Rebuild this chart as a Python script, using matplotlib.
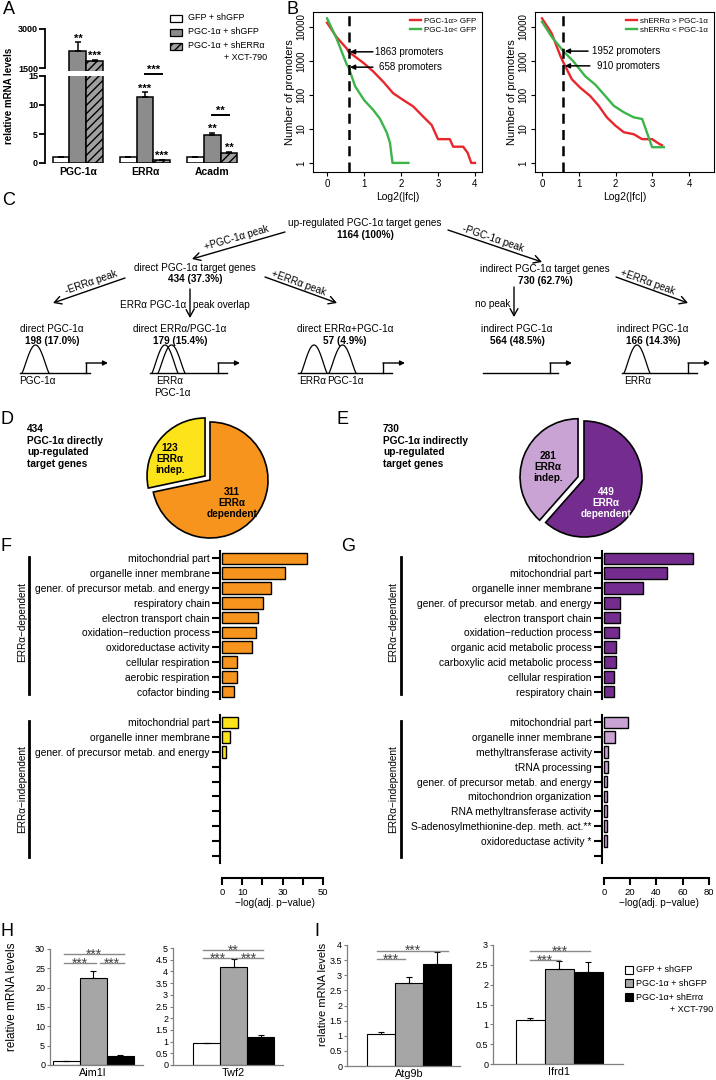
import numpy as np
import matplotlib
matplotlib.use('Agg')
import matplotlib.pyplot as plt
from matplotlib.patches import Rectangle

plt.rcParams['font.family'] = ['Liberation Sans', 'DejaVu Sans']

# ---------------- data ----------------
# A: qPCR (relative mRNA levels)
a_genes = ['PGC-1α', 'ERRα', 'Acadm']
a_conds = ['GFP + shGFP', 'PGC-1α + shGFP', 'PGC-1α + shERRα']
a_gfp = [1.0, 1.0, 1.0]
a_gfp_err = [0.1, 0.1, 0.1]
a_pgc = [2170, 11.4, 4.8]
a_pgc_err = [320, 0.8, 0.4]
a_xct = [1780, 0.5, 1.8]
a_xct_err = [40, 0.1, 0.1]
a_star_pgc = ['**', '***', '**']
a_star_xct = ['***', '***', '**']
a_star_pair = ['', '***', '**']

# B: number of promoters vs Log2(|fc|)
b1_up_x = [0, 0.26, 0.53, 0.58, 0.76, 1.0, 1.25, 1.52, 1.79, 2.06, 2.33, 2.6, 2.83, 3.0, 3.32, 3.41, 3.68, 3.8, 3.9, 4.0]
b1_up_y = [13400, 5000, 2350, 1863, 1340, 850, 490, 245, 112, 71, 46, 23, 13, 5, 5, 3, 3, 2, 1, 1]
b1_dn_x = [0, 0.26, 0.53, 0.58, 0.76, 1.0, 1.25, 1.43, 1.61, 1.7, 1.77, 2.2]
b1_dn_y = [18000, 4500, 800, 658, 180, 71, 36, 20, 8, 4, 1, 1]
b2_up_x = [0, 0.26, 0.5, 0.58, 0.81, 1.04, 1.31, 1.54, 1.76, 1.99, 2.22, 2.49, 2.72, 2.99, 3.17, 3.26]
b2_up_y = [18000, 6600, 1400, 910, 290, 163, 93, 48, 22, 12.6, 8, 7, 5, 5, 3.7, 3.3]
b2_dn_x = [0, 0.26, 0.58, 0.85, 1.17, 1.45, 1.72, 1.95, 2.22, 2.49, 2.72, 2.99, 3.31]
b2_dn_y = [14400, 5200, 1952, 980, 360, 200, 93, 48, 31, 22, 19.6, 2.9, 2.9]
b_cut = 0.58

# D / E: pies
d_counts = [123, 311]
e_counts = [281, 449]

# F / G: GO enrichment, -log(adj. p-value)
f_dep_lab = ['mitochondrial part', 'organelle inner membrane', 'gener. of precursor metab. and energy',
             'respiratory chain', 'electron transport chain', 'oxidation\u2212reduction process',
             'oxidoreductase activity', 'cellular respiration', 'aerobic respiration', 'cofactor binding']
f_dep_val = [42, 31, 24.5, 20.5, 18, 17, 15, 7.5, 7.4, 6]
f_ind_lab = ['mitochondrial part', 'organelle inner membrane', 'gener. of precursor metab. and energy']
f_ind_val = [8, 4, 1.8]
g_dep_lab = ['mitochondrion', 'mitochondrial part', 'organelle inner membrane',
             'gener. of precursor metab. and energy', 'electron transport chain',
             'oxidation\u2212reduction process', 'organic acid metabolic process',
             'carboxylic acid metabolic process', 'cellular respiration', 'respiratory chain']
g_dep_val = [68, 48, 30, 12, 12.5, 11.5, 9, 9, 8, 7.5]
g_ind_lab = ['mitochondrial part', 'organelle inner membrane', 'methyltransferase activity',
             'tRNA processing', 'gener. of precursor metab. and energy', 'mitochondrion organization',
             'RNA methyltransferase activity', 'S-adenosylmethionine-dep. meth. act.**',
             'oxidoreductase activity *']
g_ind_val = [18, 8.5, 2.7, 2.7, 2.5, 2.3, 2.3, 2.2, 2.0]

# H / I: qPCR
hi_conds = ['GFP + shGFP', 'PGC-1α + shGFP', 'PGC-1α+ shErrα']
aim1l_val = [1.0, 22.4, 2.3]
aim1l_err = [0.15, 1.8, 0.3]
twf2_val = [0.93, 4.19, 1.2]
twf2_err = [0.03, 0.33, 0.07]
atg9b_val = [1.07, 2.75, 3.37]
atg9b_err = [0.04, 0.2, 0.4]
ifrd1_val = [1.11, 2.40, 2.33]
ifrd1_err = [0.04, 0.2, 0.23]

# ---------------- figure ----------------
W, H = 716, 1080
fig = plt.figure(figsize=(W / 100, H / 100), dpi=100)


def px_axes(x0, y0, x1, y1):
    ax = fig.add_axes([x0 / W, 1 - y1 / H, (x1 - x0) / W, (y1 - y0) / H])
    ax.patch.set_alpha(0)
    return ax


ov = fig.add_axes([0, 0, 1, 1], zorder=10)
ov.set_xlim(0, W)
ov.set_ylim(H, 0)
ov.axis('off')

for lab, x, y in [('A', 3, 1), ('B', 286, 1), ('C', 2, 192), ('D', 0, 411), ('E', 336, 411),
                  ('F', 0, 538), ('G', 341, 538), ('H', 0, 923), ('I', 314, 923)]:
    ov.text(x, y, lab, fontsize=13, va='top', ha='left')

# ---- A ----
a_top = px_axes(45, 29, 245, 71)
a_bot = px_axes(45, 76, 245, 163)
xa = np.arange(len(a_genes))
bw = 0.25
for ax in (a_top, a_bot):
    ax.bar(xa - bw, a_gfp, bw, color='white', edgecolor='black', lw=1.1)
    ax.bar(xa, a_pgc, bw, color='#8c8c8c', edgecolor='black', lw=1.1)
    ax.bar(xa + bw, a_xct, bw, color='#a0a0a0', edgecolor='black', lw=1.1, hatch='////')
    for off, v, e in ((-bw, a_gfp, a_gfp_err), (0, a_pgc, a_pgc_err), (bw, a_xct, a_xct_err)):
        ax.errorbar(xa + off, v, yerr=[np.zeros(3), e], fmt='none', ecolor='black',
                    elinewidth=1.1, capsize=2.5, capthick=1.1)
    ax.set_xlim(-0.49, 2.49)
    for s in ('top', 'right', 'bottom'):
        ax.spines[s].set_visible(False)
    ax.spines['left'].set_linewidth(1.3)
    ax.tick_params(axis='y', width=1.3, length=4, labelsize=6.5, pad=1)
a_top.set_ylim(1385, 3000)
a_top.set_yticks([1500, 3000])
a_top.spines['left'].set_bounds(1500, 3000)
a_top.tick_params(axis='x', bottom=False, labelbottom=False)
a_bot.set_ylim(0, 15)
a_bot.set_yticks([0, 5, 10, 15])
a_bot.set_xticks(xa)
a_bot.set_xticklabels(a_genes, fontsize=7.5, fontweight='bold')
a_bot.tick_params(axis='x', length=0, pad=3)
for ax in (a_top, a_bot):
    for t in ax.get_yticklabels():
        t.set_fontweight('bold')

for i in range(3):
    for off, v, e, s in ((0, a_pgc[i], a_pgc_err[i], a_star_pgc[i]),
                         (bw, a_xct[i], a_xct_err[i], a_star_xct[i])):
        ax = a_top if v > 15 else a_bot
        ax.annotate(s, (i + off, v + e), xytext=(0, 0.5), textcoords='offset points',
                    ha='center', va='baseline', fontsize=8, fontweight='bold',
                    annotation_clip=False)
    if a_star_pair[i]:
        yb = max(a_pgc[i] + a_pgc_err[i], a_xct[i] + a_xct_err[i]) + 3.1
        a_bot.plot([i, i + bw], [yb, yb], color='black', lw=1.4, clip_on=False)
        a_bot.annotate(a_star_pair[i], (i + bw / 2, yb), xytext=(0, 1), textcoords='offset points',
                       ha='center', va='baseline', fontsize=8, fontweight='bold',
                       annotation_clip=False)
ov.text(9, 96, 'relative mRNA levels', rotation=90, fontsize=7, fontweight='bold',
        ha='center', va='center')

a_face = ['white', '#8c8c8c', '#a0a0a0']
a_hatch = [None, None, '////']
for k, (lab, yc) in enumerate(zip(a_conds, [18, 32, 46])):
    ov.add_patch(Rectangle((170, yc - 3.5), 12, 7, facecolor=a_face[k], edgecolor='black',
                           lw=0.9, hatch=a_hatch[k]))
    ov.text(188, yc, lab, fontsize=6.5, va='center')
ov.text(267, 58, '+ XCT-790', fontsize=6.5, va='center', ha='right')

# ---- B ----
red, green = '#e8262b', '#3cb44a'
b_panels = [
    (px_axes(313, 12, 482, 172), (-0.38, 4.19), b1_up_x, b1_up_y, b1_dn_x, b1_dn_y,
     'PGC-1α> GFP', 'PGC-1α< GFP',
     [(1863, 1.24, 1.3, '1863 promoters'), (658, 1.24, 1.41, '658 promoters')]),
    (px_axes(535, 12, 714, 172), (-0.19, 4.67), b2_up_x, b2_up_y, b2_dn_x, b2_dn_y,
     'shERRα > PGC-1α', 'shERRα < PGC-1α',
     [(1952, 1.25, 1.36, '1952 promoters'), (720, 1.3, 1.5, '910 promoters')]),
]
for ax, xl, ux, uy, dx, dy, lu, ld, anns in b_panels:
    ax.set_yscale('log')
    ax.plot(ux, uy, color=red, lw=1.7, label=lu)
    ax.plot(dx, dy, color=green, lw=1.7, label=ld)
    ax.axvline(b_cut, color='black', lw=1.8, ls=(0, (4, 2.5)))
    ax.set_xlim(*xl)
    ax.set_ylim(0.54, 27700)
    ax.set_xticks([0, 1, 2, 3, 4])
    ax.set_yticks([1, 10, 100, 1000, 10000])
    ax.set_yticklabels(['1', '10', '100', '1000', '10000'], rotation=90, va='center')
    ax.yaxis.set_minor_locator(matplotlib.ticker.NullLocator())
    ax.tick_params(labelsize=7, length=3, width=0.8, pad=2)
    for s in ax.spines.values():
        s.set_linewidth(0.8)
    ax.set_xlabel('Log2(|fc|)', fontsize=7.5, labelpad=2)
    ax.set_ylabel('Number of promoters', fontsize=8, labelpad=1)
    ax.legend(loc='upper right', frameon=False, fontsize=5.8, handlelength=1.4,
              borderaxespad=0.3, labelspacing=0.15, handletextpad=0.4)
    for yv, xt, xtxt, txt in anns:
        ax.annotate('', xy=(b_cut + 0.04, yv), xytext=(xt, yv),
                    arrowprops=dict(arrowstyle='-|>', lw=1.1, color='black', mutation_scale=7,
                                    shrinkA=0, shrinkB=0))
        ax.text(xtxt, yv, txt, fontsize=7, va='center', ha='left')

# ---- C ----
fs = 7.2
c_nodes = [
    (365, 223, 'up-regulated PGC-1α target genes', '1164 (100%)'),
    (195, 268, 'direct PGC-1α target genes', '434 (37.3%)'),
    (545, 269, 'indirect PGC-1α target genes', '730 (62.7%)'),
    (52, 329, 'direct PGC-1α', '198 (17.0%)'),
    (180, 329, 'direct ERRα/PGC-1α', '179 (15.4%)'),
    (345, 329, 'direct ERRα+PGC-1α', '57 (4.9%)'),
    (517, 329, 'indirect PGC-1α', '564 (48.5%)'),
    (653, 329, 'indirect PGC-1α', '166 (14.3%)'),
]
for x, y, t1, t2 in c_nodes:
    ov.text(x, y, t1, fontsize=fs, ha='center', va='center')
    ov.text(x, y + 11.5, t2, fontsize=fs, ha='center', va='center', fontweight='bold')

c_arrows = [
    ((285, 232), (192, 259), '+PGC-1α peak', (237, 238)),
    ((448, 230), (542, 262), '-PGC-1α peak', (493, 239)),
    ((125, 278), (53, 303), '-ERRα peak', (91, 282)),
    ((265, 277), (337, 303), '+ERRα peak', (299, 283)),
    ((616, 277), (688, 303), '+ERRα peak', (648, 282)),
    ((190, 289), (190, 318), None, None),
    ((514, 287), (514, 317), None, None),
]
for p0, p1, lab, tp in c_arrows:
    ov.annotate('', xy=p1, xytext=p0,
                arrowprops=dict(arrowstyle='->, head_length=0.5, head_width=0.28', lw=1.0,
                                color='black', shrinkA=0, shrinkB=0))
    if lab:
        ang = -np.degrees(np.arctan2(p1[1] - p0[1], p1[0] - p0[0]))
        if ang > 90:
            ang -= 180
        if ang < -90:
            ang += 180
        ov.text(tp[0], tp[1], lab, fontsize=fs, rotation=ang, rotation_mode='anchor',
                ha='center', va='center')
ov.text(186, 305, 'ERRα PGC-1α', fontsize=fs, ha='right', va='center')
ov.text(193, 305, 'peak overlap', fontsize=fs, ha='left', va='center')
ov.text(510, 304, 'no peak', fontsize=fs, ha='right', va='center')

base = 373


def peak(x0, x1, h=28):
    t = np.linspace(0, 1, 50)
    ov.plot(x0 + (x1 - x0) * t, base - h * np.sin(np.pi * t) ** 1.2, color='black', lw=0.9)


def promoter(x0, x1, xt):
    ov.plot([x0, x1], [base, base], color='black', lw=1.0)
    ov.plot([xt, xt], [base, base - 10], color='black', lw=1.0)
    ov.annotate('', xy=(xt + 22, base - 10), xytext=(xt, base - 10),
                arrowprops=dict(arrowstyle='-|>', lw=1.0, color='black', mutation_scale=7,
                                shrinkA=0, shrinkB=0))


promoter(20, 90, 86)
peak(22, 49)
promoter(150, 227, 218)
peak(152, 178)
peak(158, 185)
promoter(298, 392, 383)
peak(301, 327)
peak(329, 356)
promoter(483, 558, 550)
promoter(622, 697, 688)
peak(624, 650)
for x, y, t in [(37, 381, 'PGC-1α'), (170, 381, 'ERRα'), (172, 393, 'PGC-1α'),
                (313, 381, 'ERRα'), (345, 381, 'PGC-1α'), (638, 381, 'ERRα')]:
    ov.text(x, y, t, fontsize=fs, ha='center', va='center')

# ---- D / E ----
ov.text(27, 424, '434\nPGC-1α directly\nup-regulated\ntarget genes', fontsize=7.3,
        fontweight='bold', va='top', linespacing=1.2)
ov.text(383, 424, '730\nPGC-1α indirectly\nup-regulated\ntarget genes', fontsize=7.3,
        fontweight='bold', va='top', linespacing=1.2)
for box, counts, cols in [((135, 405, 285, 555), d_counts, ['#fde31a', '#f7941d']),
                          ((509, 404, 659, 554), e_counts, ['#c9a3d3', '#742d8f'])]:
    pax = px_axes(*box)
    pax.pie(counts, colors=cols, startangle=90, explode=[0.11, 0],
            wedgeprops=dict(edgecolor='black', linewidth=1.2))
    pax.set_xlim(-1.293, 1.293)
    pax.set_ylim(-1.293, 1.293)
    pax.set_aspect('equal')
ov.text(170, 459, '%d\nERRα\nindep.' % d_counts[0], fontsize=7.2, fontweight='bold',
        ha='center', va='center', linespacing=1.15)
ov.text(232, 503, '%d\nERRα\ndependent' % d_counts[1], fontsize=7.2, fontweight='bold',
        ha='center', va='center', linespacing=1.15)
ov.text(548, 467, '%d\nERRα\nindep.' % e_counts[0], fontsize=7.2, fontweight='bold',
        ha='center', va='center', linespacing=1.15)
ov.text(606, 503, '%d\nERRα\ndependent' % e_counts[1], fontsize=7.2, fontweight='bold',
        ha='center', va='center', linespacing=1.15, color='white')


# ---- F / G ----
def go_axis(ax, labels, values, color, xlim):
    n = 10
    ax.barh(np.arange(len(values)), values, height=0.78, color=color, edgecolor='black',
            linewidth=1.0)
    ax.set_yticks(np.arange(n))
    ax.set_yticklabels(list(labels) + [''] * (n - len(labels)), fontsize=7.4)
    ax.set_ylim(n - 0.5, -0.5)
    ax.set_xlim(*xlim)
    for s in ('top', 'right', 'bottom'):
        ax.spines[s].set_visible(False)
    ax.spines['left'].set_linewidth(1.5)
    ax.tick_params(axis='y', length=6, width=1.5, pad=1.5)
    ax.tick_params(axis='x', bottom=False, labelbottom=False)


def go_xaxis(ax, ticks, labels, top):
    ax.spines['bottom'].set_visible(True)
    ax.spines['bottom'].set_position(('outward', 11))
    ax.spines['bottom'].set_bounds(0, top)
    ax.spines['bottom'].set_linewidth(1.5)
    ax.set_xticks(ticks)
    ax.set_xticklabels(labels)
    ax.tick_params(axis='x', bottom=True, labelbottom=True, length=5, width=1.5,
                   labelsize=6.8, pad=2)
    ax.set_xlabel('\u2212log(adj. p\u2212value)', fontsize=7.2, labelpad=1)


f_dep = px_axes(220, 551, 330, 699)
f_ind = px_axes(220, 715, 330, 863)
go_axis(f_dep, f_dep_lab, f_dep_val, '#f7941d', (-1, 53.5))
go_axis(f_ind, f_ind_lab, f_ind_val, '#fde31a', (-1, 53.5))
go_xaxis(f_ind, range(0, 51, 10), ['0', '10', '', '30', '', '50'], 50)

g_dep = px_axes(602, 551, 716, 699)
g_ind = px_axes(602, 715, 716, 863)
go_axis(g_dep, g_dep_lab, g_dep_val, '#742d8f', (-1.5, 85.5))
go_axis(g_ind, g_ind_lab, g_ind_val, '#c9a3d3', (-1.5, 85.5))
go_xaxis(g_ind, range(0, 81, 20), ['0', '20', '40', '60', '80'], 80)

for xl, xt in [(29, 22), (401, 393)]:
    ov.plot([xl, xl], [557, 694], color='black', lw=2)
    ov.plot([xl, xl], [721, 857], color='black', lw=2)
    ov.text(xt, 622, 'ERRα\u2212dependent', rotation=90, fontsize=7.2, ha='center', va='center')
    ov.text(xt, 789, 'ERRα\u2212independent', rotation=90, fontsize=7.2, ha='center', va='center')

# ---- H / I ----
hi_cols = ['white', '#a6a6a6', 'black']
axis_gray = '#7f7f7f'
hi_panels = [
    ((50, 949, 143, 1065), 'Aim1l', aim1l_val, aim1l_err, 30, 5, (-0.6, 2.85),
     [(-0.07, 2.15, 28.7, '***'), (-0.07, 1.1, 26.4, '***'), (1.26, 2.15, 26.4, '***')]),
    ((173, 948, 283, 1065), 'Twf2', twf2_val, twf2_err, 5, 0.5, (-1.24, 2.83),
     [(-0.13, 2.09, 4.91, '**'), (-0.13, 0.98, 4.57, '***'), (1.05, 2.09, 4.57, '***')]),
    ((347, 945, 460, 1066), 'Atg9b', atg9b_val, atg9b_err, 4, 0.5, (-1.21, 2.82),
     [(-0.14, 2.4, 3.81, '***'), (-0.14, 0.86, 3.54, '***')]),
    ((493, 945, 623, 1064), 'Ifrd1', ifrd1_val, ifrd1_err, 3, 0.5, (-1.28, 3.2),
     [(0.0, 2.07, 2.85, '***'), (0.0, 1.03, 2.62, '***')]),
]
for box, gene, vals, errs, ymax, ystep, xl, brackets in hi_panels:
    ax = px_axes(*box)
    xb = np.arange(3)
    ax.bar(xb, vals, width=1.0, color=hi_cols, edgecolor='black', linewidth=0.8)
    ax.errorbar(xb, vals, yerr=[np.zeros(3), errs], fmt='none', ecolor='black',
                elinewidth=0.8, capsize=2, capthick=0.8)
    ax.set_ylim(0, ymax)
    ax.set_xlim(*xl)
    ax.set_yticks(np.arange(0, ymax + 1e-9, ystep))
    ax.yaxis.set_major_formatter(matplotlib.ticker.FormatStrFormatter('%g'))
    ax.set_xticks([1])
    ax.set_xticklabels([gene], fontsize=7.8)
    ax.tick_params(axis='x', length=0, pad=2)
    ax.tick_params(axis='y', labelsize=6.5, length=2.5, width=0.8, color=axis_gray, pad=1)
    for s in ('top', 'right'):
        ax.spines[s].set_visible(False)
    for s in ('left', 'bottom'):
        ax.spines[s].set_color(axis_gray)
        ax.spines[s].set_linewidth(0.9)
    for x0, x1, yb, txt in brackets:
        ax.plot([x0, x1], [yb, yb], color='#8a8a8a', lw=1.0, clip_on=False)
        ax.annotate(txt, ((x0 + x1) / 2, yb), xytext=(0, -3.2), textcoords='offset points',
                    ha='center', va='baseline', fontsize=10, color='#444444',
                    annotation_clip=False)
ov.text(12, 997, 'relative mRNA levels', rotation=90, fontsize=8.5, ha='center', va='center')
ov.text(323, 994, 'relative mRNA levels', rotation=90, fontsize=8, ha='center', va='center')

for k, (lab, yc) in enumerate(zip(hi_conds, [970, 983, 997])):
    ov.add_patch(Rectangle((625, yc - 4), 8, 8, facecolor=hi_cols[k], edgecolor='black', lw=0.8))
    ov.text(636, yc, lab, fontsize=6.5, va='center')
ov.text(713, 1009, '+ XCT-790', fontsize=6.5, va='center', ha='right')

fig.savefig('out.png', dpi=100)
